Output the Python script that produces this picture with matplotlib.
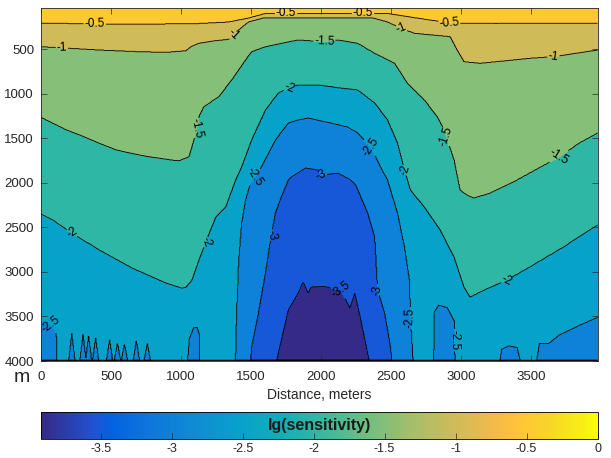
import numpy as np
import matplotlib
matplotlib.use('Agg')
import matplotlib.pyplot as plt
from matplotlib.colors import LinearSegmentedColormap, Normalize
from matplotlib.cm import ScalarMappable
from matplotlib.path import Path

plt.rcParams['font.family'] = ['Liberation Sans', 'DejaVu Sans']

# contour levels of lg(sensitivity)
levels = [-3.5, -3.0, -2.5, -2.0, -1.5, -1.0, -0.5]
cmin, cmax = -3.92, 0.0

# boundaries: distance (m) and depth (m)
# open lines crossing the section (region below the line is lower than the level)
l05_x = [0, 420, 840, 1130, 1340, 1480, 1600, 1840, 2200, 2480, 2690, 2920, 3250, 3975]
l05_d = [205, 216, 216, 210, 193, 150, 98, 98, 98, 98, 150, 205, 210, 205]

l10_x = [0, 418, 702, 894, 1035, 1071, 1128, 1248, 1340, 1411, 1482, 1589, 2200, 2369,
         2475, 2567, 2667, 2922, 2972, 3021, 3135, 3255, 3489, 3660, 3975]
l10_d = [471, 508, 527, 534, 516, 471, 433, 403, 388, 283, 193, 148, 148, 148,
         193, 261, 320, 358, 508, 639, 657, 639, 601, 583, 508]

l15_x = [0, 184, 277, 418, 539, 702, 773, 936, 986, 1057, 1078, 1106, 1128, 1163, 1269,
         1362, 1461, 1504, 1603, 1716, 1837, 2000, 2121, 2262, 2383, 2525, 2617, 2738,
         2830, 2879, 2950, 2993, 3043, 3092, 3206, 3376, 3489, 3702, 3844, 3975]
l15_d = [1264, 1407, 1463, 1556, 1631, 1687, 1707, 1744, 1751, 1707, 1594, 1440, 1257, 1145, 1033,
         845, 620, 527, 471, 433, 395, 414, 395, 433, 545, 657, 882, 1070,
         1257, 1407, 1744, 2081, 2137, 2171, 2115, 1988, 1890, 1707, 1553, 1440]

l20_x = [0, 85, 220, 418, 652, 894, 1007, 1035, 1078, 1128, 1177, 1248, 1319, 1390, 1433,
         1504, 1603, 1695, 1766, 1837, 1979, 2142, 2262, 2383, 2475, 2546, 2596, 2638,
         2738, 2851, 2950, 3021, 3064, 3163, 3326, 3489, 3730, 3975]
l20_d = [2350, 2418, 2564, 2755, 2957, 3126, 3182, 3171, 3092, 2867, 2665, 2384, 2272, 1969, 1822,
         1519, 1182, 991, 935, 901, 901, 935, 957, 1103, 1294, 1553, 1856, 2081,
         2272, 2530, 2834, 3171, 3283, 3205, 3092, 2946, 2721, 2470]

# closed regions standing on the bottom (outline from bottom-left round to bottom-right)
c25_x = [1376, 1390, 1397, 1411, 1433, 1461, 1496, 1574, 1674, 1766, 1837, 1908, 2071, 2191,
         2262, 2355, 2425, 2475, 2546, 2596, 2631, 2638, 2667]
c25_d = [4000, 3912, 3463, 2901, 2452, 2193, 2003, 1822, 1519, 1328, 1294, 1272, 1328, 1373,
         1440, 1598, 1822, 1969, 2339, 2721, 3092, 3463, 4000]

c30_x = [1482, 1504, 1553, 1603, 1645, 1674, 1716, 1766, 1787, 1887, 1979, 2000, 2121, 2213,
         2248, 2333, 2383, 2404, 2454, 2496, 2525]
c30_d = [4000, 3845, 3463, 3013, 2586, 2339, 2160, 1969, 1934, 1833, 1856, 1912, 1890, 1969,
         2025, 2339, 2609, 3205, 3463, 3845, 4000]

c35_x = [1638, 1766, 1837, 1872, 1908, 1929, 2014, 2142, 2206, 2241, 2284, 2383]
c35_d = [4000, 3429, 3238, 3114, 3238, 3171, 3160, 3205, 3407, 3238, 3541, 4000]

# small -2.5 patches along the bottom
p25_left_x = [0, 60, 100, 113, 115]
p25_left_d = [3560, 3580, 3650, 3750, 4000]
p25_tongue_x = [1030, 1060, 1090, 1115, 1130, 1135]
p25_tongue_d = [4000, 3750, 3630, 3620, 3700, 4000]
p25_right1_x = [2800, 2810, 2840, 2900, 2950, 2960]
p25_right1_d = [4000, 3450, 3373, 3400, 3550, 4000]
p25_right2_x = [3250, 3290, 3340, 3400, 3470]
p25_right2_d = [4000, 3870, 3830, 3850, 4000]
p25_right3_x = [3540, 3560, 3630, 3700, 3780, 3845, 3975]
p25_right3_d = [4000, 3800, 3800, 3710, 3650, 3600, 3510]
spike_x = [220, 300, 340, 390, 490, 546, 596, 681, 759]
spike_top = [3690, 3700, 3720, 3740, 3760, 3800, 3810, 3770, 3800]

# where the contour labels sit (distance, depth)
label_at = [(383, 216), (1750, 95), (2300, 95), (2915, 205),
            (149, 508), (1376, 339), (2567, 306), (3660, 587),
            (1113, 1384), (2035, 519), (2879, 1485), (3702, 1710),
            (1773, 946), (220, 2564), (1177, 2665), (2596, 1856), (3326, 3092),
            (1553, 1969), (2355, 1598), (2617, 3541), (2922, 3766), (64, 3600),
            (1645, 2586), (2000, 1912), (2404, 3205),
            (2142, 3171)]

# parula colormap
parula_pts = [(0.00, (0.2081, 0.1663, 0.5292)), (0.095, (0.1253, 0.3242, 0.8303)),
              (0.127, (0.0117, 0.3875, 0.8820)), (0.190, (0.0498, 0.4586, 0.8641)),
              (0.286, (0.0641, 0.5570, 0.8240)), (0.349, (0.0239, 0.6287, 0.8038)),
              (0.429, (0.0590, 0.6838, 0.7254)), (0.508, (0.2178, 0.7250, 0.6193)),
              (0.587, (0.4420, 0.7481, 0.5033)), (0.667, (0.6473, 0.7456, 0.4188)),
              (0.746, (0.8185, 0.7327, 0.3498)), (0.810, (0.9450, 0.7261, 0.2886)),
              (0.857, (0.9990, 0.7653, 0.2164)), (0.921, (0.9697, 0.8481, 0.1475)),
              (1.00, (0.9763, 0.9831, 0.0538))]
parula = LinearSegmentedColormap.from_list('parula', parula_pts)
norm = Normalize(cmin, cmax)

BOT = 4300


def below_line(bx, bd):
    return ([(-200, bd[0])] + list(zip(bx, bd)) + [(4200, bd[-1]), (4200, BOT), (-200, BOT)])


def on_bottom(bx, bd):
    pts = list(zip(bx, bd))
    pts[0] = (bx[0], BOT)
    pts[-1] = (bx[-1], BOT)
    return pts


def spike(x0, top, hw=22):
    return [(x0 - hw, BOT), (x0 - hw, 3990), (x0, top), (x0 + hw, 3990), (x0 + hw, BOT)]


regions = [
    [below_line(l05_x, l05_d)],
    [below_line(l10_x, l10_d)],
    [below_line(l15_x, l15_d)],
    [below_line(l20_x, l20_d)],
    [on_bottom(c25_x, c25_d),
     [(-200, 3560)] + list(zip(p25_left_x, p25_left_d))[:-1] + [(115, BOT), (-200, BOT)],
     on_bottom(p25_tongue_x, p25_tongue_d),
     on_bottom(p25_right1_x, p25_right1_d),
     on_bottom(p25_right2_x, p25_right2_d),
     list(zip(p25_right3_x, p25_right3_d))[:-1] + [(3975, 3510), (4200, 3510), (4200, BOT), (3540, BOT)]]
    + [spike(sx, st) for sx, st in zip(spike_x, spike_top)],
    [on_bottom(c30_x, c30_d)],
    [on_bottom(c35_x, c35_d)],
]

x = np.arange(0, 3976, 5.0)
d = np.arange(0, 4001, 5.0)
X, D = np.meshgrid(x, d)
pts = np.column_stack([X.ravel(), D.ravel()])
count = np.zeros(X.size)
for polys in regions:
    m = np.zeros(X.size, dtype=bool)
    for p in polys:
        m |= Path(p).contains_points(pts)
    count += m
Z = (-0.25 - 0.5 * count).reshape(X.shape)
Z[D >= 3992] = -1.25  # thin layer at the bottom

fig = plt.figure(figsize=(6.11, 4.58), dpi=100)
ax = fig.add_axes([41 / 611, 1 - 361 / 458, 556.6 / 611, 353 / 458])

bounds = [cmin] + levels + [cmax]
fill_colors = [parula(norm(v)) for v in bounds[:-1]]
ax.contourf(X, D, Z, levels=bounds, colors=fill_colors)
cs = ax.contour(X, D, Z, levels=levels, colors='k', linewidths=0.6, linestyles='solid')
ax.clabel(cs, fmt='%g', fontsize=8.5, inline=True, inline_spacing=1, manual=label_at)

ax.set_xlim(0, 3975)
ax.set_ylim(4000, 36)
ax.set_xticks(np.arange(0, 3501, 500))
ax.set_yticks(np.arange(500, 4001, 500))
ax.tick_params(direction='in', top=True, right=True, length=4, width=0.5,
               labelsize=9.5, colors='#262626')
ax.tick_params(axis='x', pad=7)
ax.tick_params(axis='y', pad=5)
for s in ax.spines.values():
    s.set_linewidth(0.6)
    s.set_color('#262626')
ax.set_xlabel('Distance, meters', fontsize=10, color='#262626', labelpad=4)
fig.text(22 / 611, 1 - 377 / 458, 'm', fontsize=14, ha='center', va='center', color='#262626')

cax = fig.add_axes([41 / 611, 1 - 439 / 458, 556.6 / 611, 27 / 458])
cb = fig.colorbar(ScalarMappable(norm=norm, cmap=parula), cax=cax, orientation='horizontal')
cb.set_ticks([-3.5, -3, -2.5, -2, -1.5, -1, -0.5, 0])
cb.set_ticklabels(['-3.5', '-3', '-2.5', '-2', '-1.5', '-1', '-0.5', '0'])
cax.tick_params(direction='in', length=4, width=0.5, labelsize=9, colors='#262626', pad=3)
cb.outline.set_linewidth(0.6)
cax.text(0.5, 0.5, 'lg(sensitivity)', transform=cax.transAxes, ha='center', va='center',
         fontsize=11.5, fontweight='bold', color='#1a1a1a')

fig.savefig('out.png', dpi=100)
